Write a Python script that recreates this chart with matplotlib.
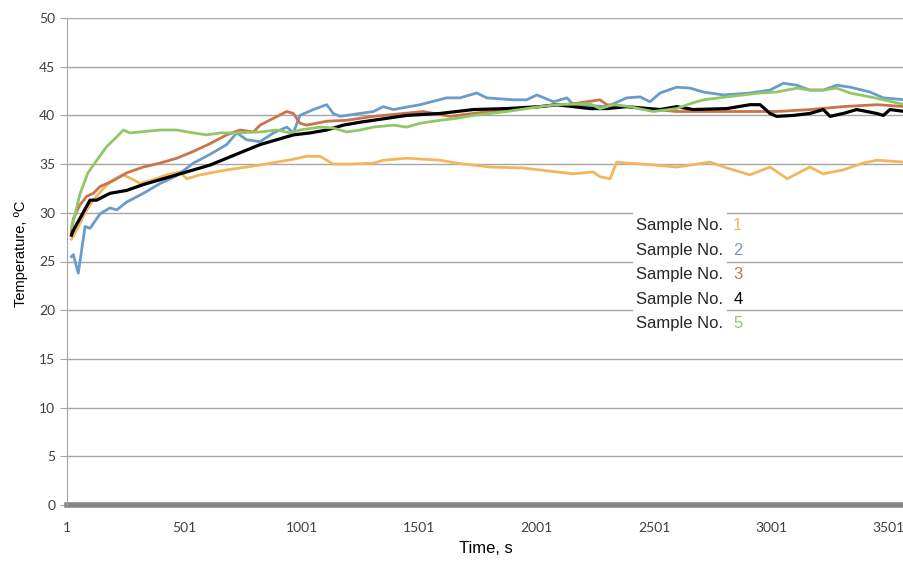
import numpy as np
import matplotlib.pyplot as plt
from matplotlib.patches import Rectangle

# readings taken off the original chart (time in s, temperature in deg C)
t1 = [20, 28, 56, 85, 113, 156, 198, 241, 283, 312, 369, 426, 482, 511, 568, 681, 823,
      965, 1020, 1079, 1135, 1200, 1306, 1348, 1448, 1590, 1661, 1803, 1945, 2086, 2157,
      2242, 2271, 2314, 2342, 2385, 2454, 2599, 2740, 2812, 2910, 2995, 3068, 3165, 3221,
      3306, 3391, 3451, 3570]
s1 = [27.3, 27.6, 28.9, 30.3, 31.3, 32.5, 33.4, 33.9, 33.4, 33.0, 33.4, 33.9, 34.2, 33.5,
      33.9, 34.4, 34.9, 35.5, 35.8, 35.8, 35.0, 35.0, 35.1, 35.4, 35.6, 35.4, 35.1, 34.7,
      34.6, 34.2, 34.0, 34.2, 33.7, 33.5, 35.2, 35.1, 35.0, 34.7, 35.2, 34.6, 33.9, 34.7,
      33.5, 34.7, 34.0, 34.4, 35.1, 35.4, 35.2]

t2 = [20, 28, 49, 78, 99, 142, 184, 213, 255, 326, 397, 468, 539, 610, 681, 724, 766, 823,
      880, 937, 965, 993, 1050, 1107, 1135, 1164, 1220, 1306, 1348, 1391, 1505, 1618, 1675,
      1746, 1789, 1902, 1959, 2002, 2073, 2130, 2158, 2300, 2385, 2442, 2484, 2527, 2598,
      2655, 2711, 2797, 2910, 2995, 3052, 3109, 3165, 3222, 3279, 3336, 3421, 3478, 3570]
s2 = [25.5, 25.7, 23.8, 28.6, 28.4, 29.9, 30.5, 30.3, 31.1, 32.0, 33.0, 33.8, 35.1, 36.0,
      37.0, 38.2, 37.5, 37.3, 38.2, 38.8, 38.2, 40.0, 40.6, 41.1, 40.2, 39.9, 40.1, 40.4,
      40.9, 40.6, 41.1, 41.8, 41.8, 42.3, 41.8, 41.6, 41.6, 42.1, 41.4, 41.8, 41.1, 40.9,
      41.8, 41.9, 41.4, 42.3, 42.9, 42.8, 42.4, 42.1, 42.3, 42.6, 43.3, 43.1, 42.6, 42.6,
      43.1, 42.9, 42.4, 41.8, 41.6]

t3 = [20, 28, 56, 85, 113, 142, 198, 255, 326, 397, 468, 539, 610, 681, 738, 795, 823, 880,
      937, 965, 993, 1021, 1107, 1192, 1306, 1519, 1632, 1732, 1874, 2015, 2157, 2271, 2300,
      2385, 2454, 2599, 2740, 2880, 3025, 3165, 3306, 3451, 3570]
s3 = [28.0, 29.4, 30.8, 31.7, 32.0, 32.7, 33.3, 34.1, 34.7, 35.1, 35.6, 36.3, 37.1, 38.0,
      38.5, 38.3, 39.0, 39.7, 40.4, 40.2, 39.2, 39.0, 39.4, 39.5, 39.9, 40.4, 39.9, 40.2,
      40.6, 40.9, 41.2, 41.6, 41.1, 40.9, 40.7, 40.4, 40.4, 40.4, 40.4, 40.6, 40.9, 41.1,
      40.9]

t4 = [20, 28, 99, 127, 184, 255, 326, 397, 468, 539, 610, 681, 752, 823, 894, 965, 1036,
      1107, 1178, 1249, 1306, 1448, 1590, 1732, 1874, 2015, 2086, 2157, 2228, 2300, 2385,
      2527, 2598, 2669, 2811, 2910, 2953, 2995, 3024, 3095, 3165, 3222, 3251, 3307, 3364,
      3407, 3449, 3478, 3506, 3570]
s4 = [27.7, 28.2, 31.3, 31.3, 32.0, 32.3, 32.9, 33.4, 33.9, 34.4, 34.9, 35.6, 36.3, 37.0,
      37.5, 38.0, 38.2, 38.5, 39.0, 39.3, 39.5, 40.0, 40.2, 40.6, 40.7, 40.9, 41.1, 40.9,
      40.7, 40.7, 40.9, 40.6, 40.9, 40.6, 40.7, 41.1, 41.1, 40.2, 39.9, 40.0, 40.2, 40.6,
      39.9, 40.2, 40.6, 40.4, 40.2, 40.0, 40.6, 40.4]

t5 = [20, 28, 56, 90, 113, 170, 213, 241, 269, 312, 397, 468, 539, 596, 653, 724, 823, 894,
      951, 993, 1079, 1135, 1192, 1249, 1306, 1391, 1448, 1505, 1590, 1661, 1732, 1803,
      1874, 1959, 2015, 2086, 2228, 2271, 2328, 2399, 2455, 2498, 2598, 2655, 2711, 2811,
      2881, 2953, 3024, 3109, 3165, 3222, 3279, 3336, 3421, 3478, 3570]
s5 = [28.5, 29.1, 31.9, 34.1, 34.9, 36.8, 37.8, 38.5, 38.2, 38.3, 38.5, 38.5, 38.2, 38.0,
      38.2, 38.2, 38.3, 38.5, 38.2, 38.5, 38.8, 38.7, 38.3, 38.5, 38.8, 39.0, 38.8, 39.2,
      39.5, 39.7, 40.0, 40.2, 40.4, 40.7, 40.9, 41.1, 41.2, 40.7, 41.1, 40.9, 40.6, 40.4,
      40.7, 41.2, 41.6, 41.9, 42.1, 42.3, 42.4, 42.8, 42.6, 42.6, 42.8, 42.3, 41.9, 41.6,
      41.1]

times = [t1, t2, t3, t4, t5]
temps = [s1, s2, s3, s4, s5]
names = ['1', '2', '3', '4', '5']
colors = ['#f2b75e', '#6a9ccb', '#c9744a', '#000000', '#8fc865']

xticks = [1, 501, 1001, 1501, 2001, 2501, 3001, 3501]
yticks = list(range(0, 51, 5))

fig = plt.figure(figsize=(9.04, 5.65), dpi=100)
ax = fig.add_axes([67 / 904, 60 / 565, 838 / 904, 487 / 565])

for t, s, c in zip(times, temps, colors):
    ax.plot(t, s, color=c, lw=2.3 if c == '#000000' else 2.0, zorder=3)

ax.set_xlim(1, 3570)
ax.set_ylim(0, 50)
ax.set_xticks(xticks)
ax.set_yticks(yticks)
ax.yaxis.grid(True, color='#a6a6a6', lw=1)
ax.set_axisbelow(True)
for side in ['top', 'right', 'bottom']:
    ax.spines[side].set_visible(False)
ax.spines['left'].set_color('#a6a6a6')
ax.axhline(0, color='#868686', lw=4, zorder=2, clip_on=False)
ax.tick_params(axis='y', colors='#a6a6a6', length=5, labelcolor='#404040', labelsize=10)
ax.tick_params(axis='x', length=0, pad=12, labelcolor='#404040', labelsize=10)
for lab in ax.get_xticklabels() + ax.get_yticklabels():
    lab.set_family('Lato')
ax.set_xlabel('Time, s', family='Liberation Sans', fontsize=12, labelpad=5)
ax.set_ylabel('Temperature, ºC', family='Liberation Sans', fontsize=10.5)
ax.yaxis.set_label_coords(-0.047, 0.515)

# legend: text on white, digit in the series colour
ax.add_patch(Rectangle((0.675, 0.349), 0.113, 0.257, transform=ax.transAxes,
                       facecolor='white', edgecolor='none', zorder=1.5))
for i, (n, c) in enumerate(zip(names, colors)):
    y = 0.573 - i * 0.0503
    ax.text(0.679, y, 'Sample No.', transform=ax.transAxes, va='center',
            family='Liberation Sans', fontsize=12, color='#262626', zorder=4)
    ax.text(0.795, y, n, transform=ax.transAxes, va='center',
            family='Liberation Sans', fontsize=12, color=c, zorder=4)

fig.savefig('out.png', dpi=100)
